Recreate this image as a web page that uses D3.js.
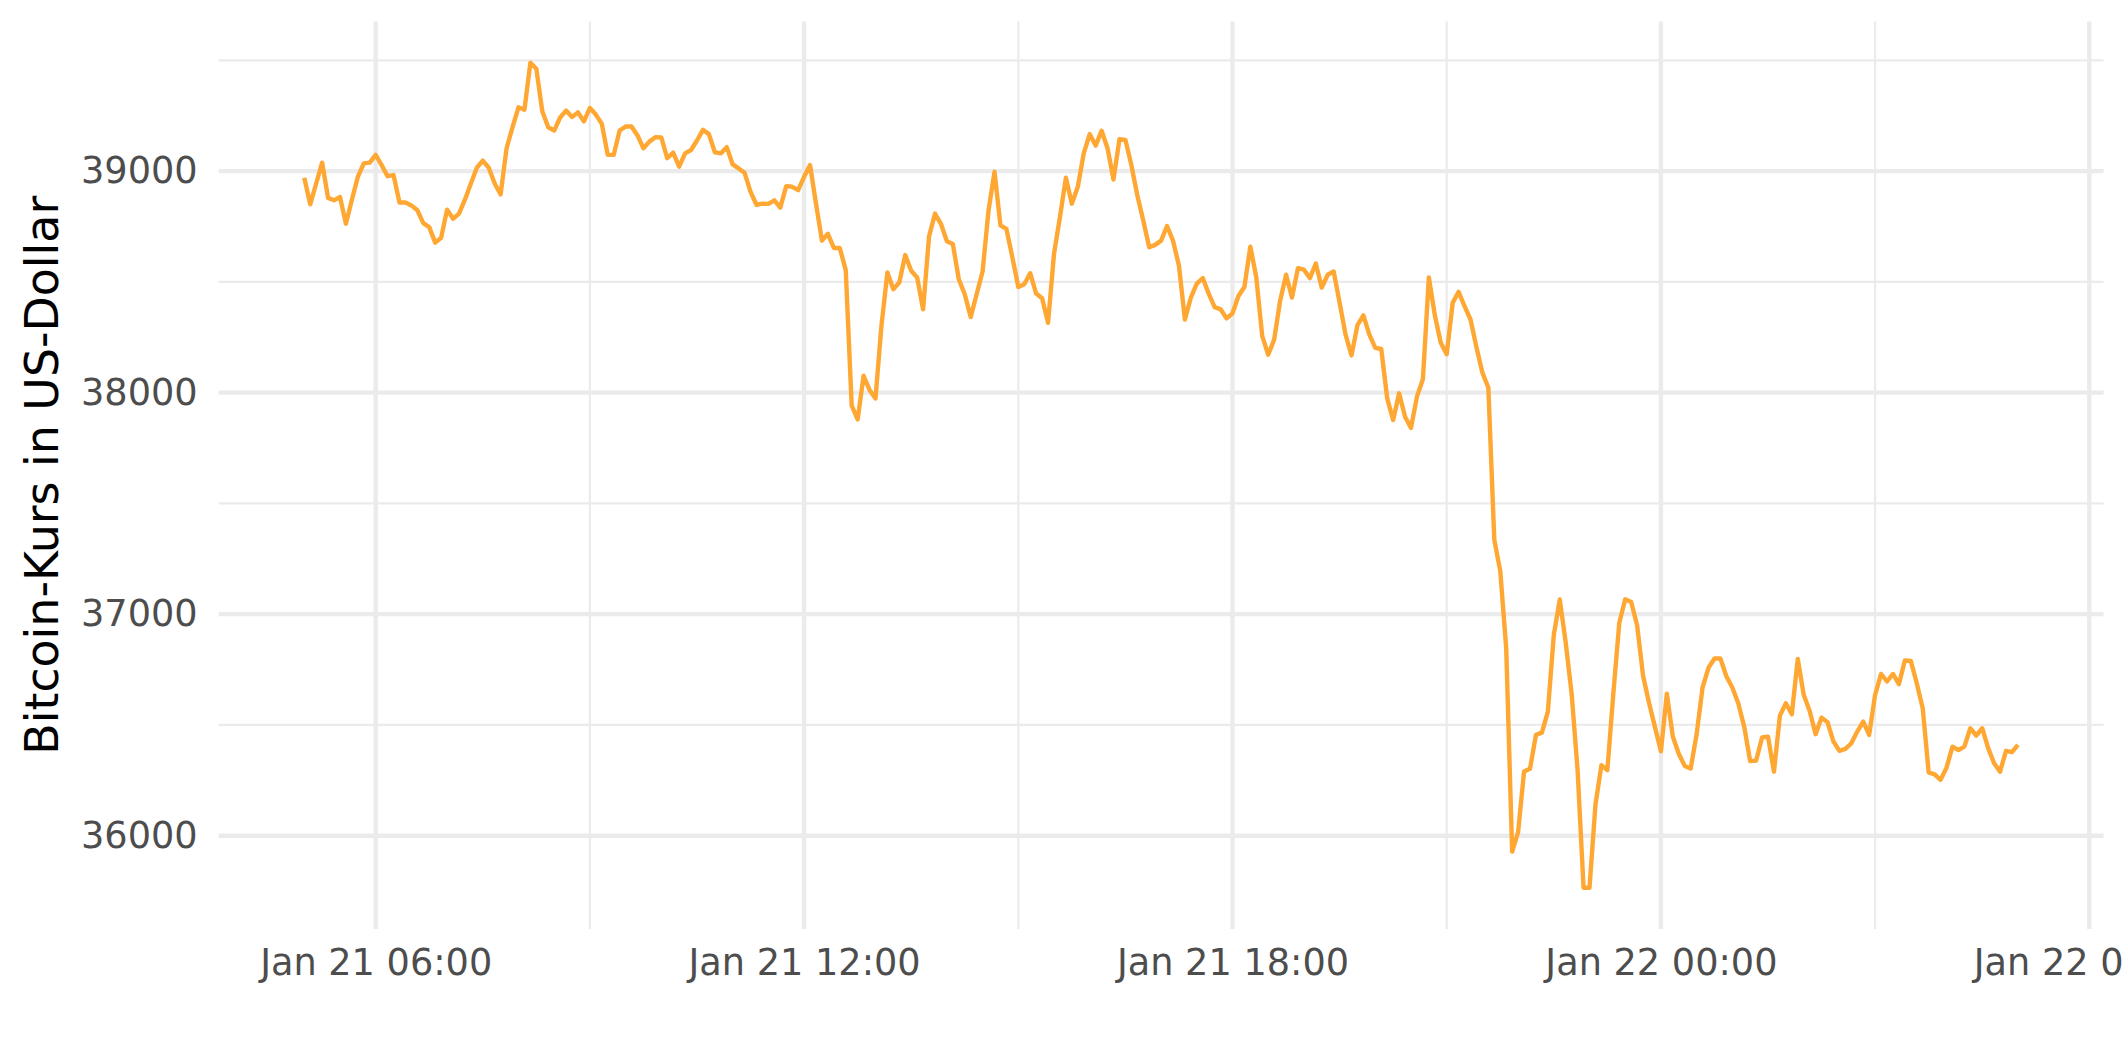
<!DOCTYPE html>
<html>
<head>
<meta charset="utf-8">
<script src="https://d3js.org/d3.v7.min.js"></script>
<style>
  body { margin: 0; overflow: hidden; background: #fff; }
  svg { display: block; }
</style>
</head>
<body>
<svg width="2125" height="1062"></svg>
<script>
var svg = d3.select('svg');

// Bitcoin price (USD), one reading every 5 minutes, Jan 21 05:00 -> Jan 22 05:00 (UTC)
var startTime = '2022-01-21T05:00:00Z';
var stepMinutes = 5;
var prices = [
  38970, 38850, 38944, 39038, 38879, 38868, 38883, 38762, 38871, 38974, 39035, 39038,
  39073, 39027, 38977, 38982, 38858, 38858, 38845, 38823, 38765, 38747, 38677, 38699,
  38826, 38785, 38808, 38871, 38944, 39015, 39047, 39015, 38944, 38895, 39103, 39198,
  39288, 39277, 39489, 39462, 39270, 39198, 39183, 39242, 39273, 39244, 39265, 39224,
  39285, 39255, 39214, 39073, 39073, 39183, 39201, 39201, 39161, 39103, 39133, 39153,
  39152, 39058, 39083, 39020, 39080, 39095, 39138, 39186, 39167, 39085, 39080, 39108,
  39030, 39012, 38992, 38906, 38848, 38853, 38852, 38868, 38835, 38932, 38929, 38914,
  38974, 39027, 38853, 38686, 38717, 38653, 38653, 38553, 37941, 37879, 38076, 38012,
  37974, 38302, 38542, 38467, 38497, 38621, 38550, 38520, 38376, 38705, 38808, 38762,
  38683, 38671, 38512, 38444, 38341, 38444, 38547, 38823, 38997, 38755, 38739, 38611,
  38477, 38489, 38539, 38447, 38426, 38315, 38626, 38792, 38970, 38853, 38929, 39080,
  39167, 39115, 39182, 39103, 38962, 39144, 39141, 39027, 38891, 38777, 38656, 38667,
  38686, 38752, 38686, 38573, 38330, 38429, 38492, 38517, 38447, 38386, 38376, 38335,
  38358, 38436, 38477, 38659, 38520, 38255, 38171, 38239, 38414, 38532, 38429, 38562,
  38555, 38517, 38583, 38474, 38532, 38547, 38406, 38262, 38168, 38305, 38349, 38262,
  38202, 38197, 37974, 37876, 37997, 37891, 37841, 37982, 38061, 38520, 38350, 38225,
  38173, 38405, 38455, 38390, 38330, 38205, 38090, 38022, 37335, 37195, 36847, 35928,
  36016, 36290, 36302, 36455, 36465, 36560, 36906, 37066, 36872, 36640, 36295, 35765,
  35765, 36140, 36318, 36296, 36640, 36960, 37067, 37055, 36950, 36722, 36600, 36490,
  36381, 36641, 36448, 36370, 36315, 36303, 36457, 36669, 36758, 36800, 36800, 36720,
  36669, 36598, 36492, 36337, 36339, 36443, 36447, 36289, 36542, 36598, 36548, 36798,
  36636, 36563, 36458, 36533, 36512, 36425, 36383, 36392, 36417, 36470, 36515, 36455,
  36636, 36730, 36696, 36730, 36684, 36791, 36789, 36688, 36575, 36286, 36277, 36252,
  36307, 36402, 36387, 36402, 36485, 36452, 36485, 36395, 36327, 36289, 36383, 36377,
  36410
];

// axis breaks
var xMajor = ['2022-01-21T06:00:00Z', '2022-01-21T12:00:00Z', '2022-01-21T18:00:00Z',
              '2022-01-22T00:00:00Z', '2022-01-22T06:00:00Z'];
var xMinor = ['2022-01-21T09:00:00Z', '2022-01-21T15:00:00Z', '2022-01-21T21:00:00Z',
              '2022-01-22T03:00:00Z'];
var yMajor = [36000, 37000, 38000, 39000];
var yMinor = [36500, 37500, 38500, 39500];
var yTitle = 'Bitcoin-Kurs in US-Dollar';

var t0 = new Date(startTime).getTime();
var data = prices.map(function(p, i){
    return {time: new Date(t0 + i * stepMinutes * 60000), price: p};
});

// panel box (note: "top" is taken by window.top, so prefix everything)
var panelLeft = 218.6, panelRight = 2103.6, panelTop = 21.5, panelBottom = 929;

// ggplot style 5% expansion on both scales
var xExt = d3.extent(data, function(d){ return d.time; });
var xPad = (xExt[1] - xExt[0]) * 0.05;
var x = d3.scaleUtc()
    .domain([new Date(xExt[0].getTime() - xPad), new Date(xExt[1].getTime() + xPad)])
    .range([panelLeft, panelRight]);

var yExt = d3.extent(data, function(d){ return d.price; });
var yPad = (yExt[1] - yExt[0]) * 0.05;
var y = d3.scaleLinear()
    .domain([yExt[0] - yPad, yExt[1] + yPad])
    .range([panelBottom, panelTop]);

var grid = svg.append('g').attr('stroke', '#ebebeb').attr('fill', 'none');

// minor grid first
grid.selectAll('.ymin').data(yMinor).enter().append('line')
    .attr('x1', panelLeft).attr('x2', panelRight)
    .attr('y1', function(d){ return y(d); })
    .attr('y2', function(d){ return y(d); })
    .attr('stroke-width', 2.2);
grid.selectAll('.xmin').data(xMinor).enter().append('line')
    .attr('y1', panelTop).attr('y2', panelBottom)
    .attr('x1', function(d){ return x(new Date(d)); })
    .attr('x2', function(d){ return x(new Date(d)); })
    .attr('stroke-width', 2.2);

// major grid
grid.selectAll('.ymaj').data(yMajor).enter().append('line')
    .attr('x1', panelLeft).attr('x2', panelRight)
    .attr('y1', function(d){ return y(d); })
    .attr('y2', function(d){ return y(d); })
    .attr('stroke-width', 4.4);
grid.selectAll('.xmaj').data(xMajor).enter().append('line')
    .attr('y1', panelTop).attr('y2', panelBottom)
    .attr('x1', function(d){ return x(new Date(d)); })
    .attr('x2', function(d){ return x(new Date(d)); })
    .attr('stroke-width', 4.4);

// price line
var line = d3.line()
    .x(function(d){ return x(d.time); })
    .y(function(d){ return y(d.price); });

svg.append('path')
    .datum(data)
    .attr('d', line)
    .attr('fill', 'none')
    .attr('stroke', '#ffa733')
    .attr('stroke-width', 4.4)
    .attr('stroke-linejoin', 'round')
    .attr('stroke-linecap', 'butt');

// axes (labels only, no ticks or domain line)
var xAxis = svg.append('g')
    .attr('transform', 'translate(0,' + panelBottom + ')')
    .call(d3.axisBottom(x)
        .tickValues(xMajor.map(function(d){ return new Date(d); }))
        .tickFormat(d3.utcFormat('%b %d %H:%M'))
        .tickSize(0)
        .tickPadding(20));

var yAxis = svg.append('g')
    .attr('transform', 'translate(' + panelLeft + ',0)')
    .call(d3.axisLeft(y)
        .tickValues(yMajor)
        .tickFormat(d3.format('d'))
        .tickSize(0)
        .tickPadding(21));

[xAxis, yAxis].forEach(function(a){
    a.select('.domain').remove();
    a.attr('font-family', '"DejaVu Sans", sans-serif')
     .attr('font-size', 36.67);
    a.selectAll('text').attr('fill', '#4d4d4d');
});

svg.append('text')
    .attr('transform', 'translate(58,' + ((panelTop + panelBottom) / 2) + ') rotate(-90)')
    .attr('text-anchor', 'middle')
    .attr('font-family', '"DejaVu Sans", sans-serif')
    .attr('font-size', 45.83)
    .attr('fill', '#000')
    .text(yTitle);
</script>
</body>
</html>
